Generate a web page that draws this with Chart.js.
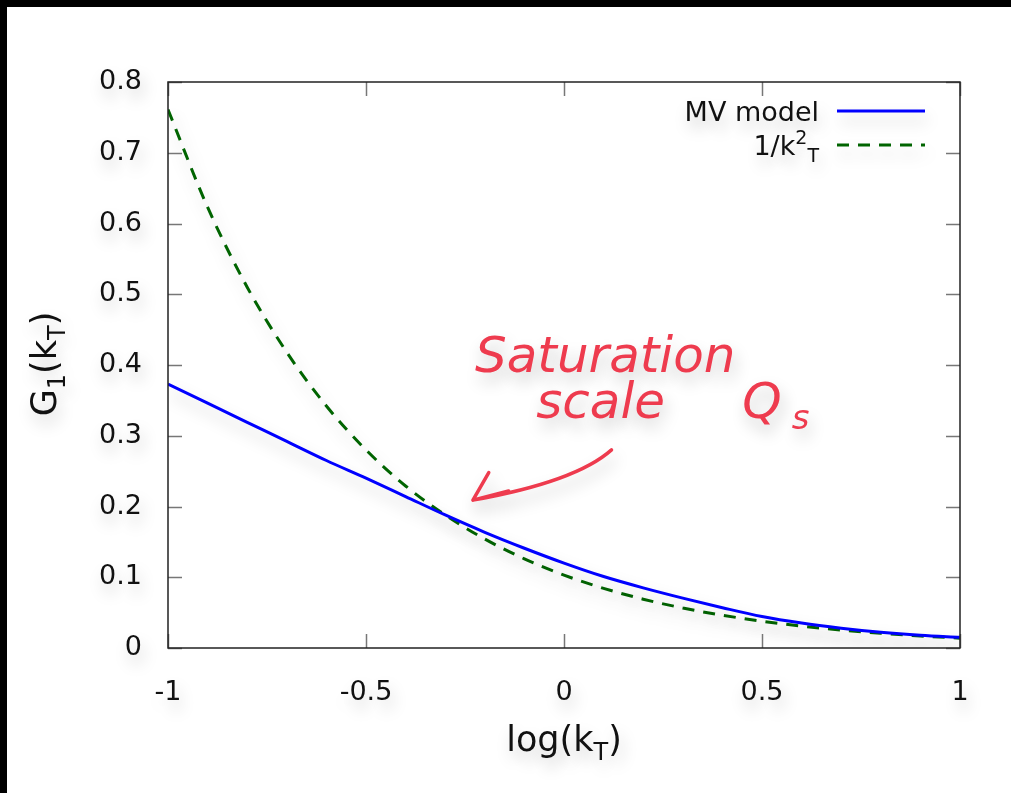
<!DOCTYPE html>
<html>
<head>
<meta charset="utf-8">
<script src="https://cdn.jsdelivr.net/npm/chart.js@4.4.1/dist/chart.umd.min.js"></script>
<style>
  html, body { margin: 0; padding: 0; background: #000; }
  body { width: 1011px; height: 793px; overflow: hidden; position: relative; }
  #wrap { position: absolute; left: 7px; top: 7px; width: 1004px; height: 786px; background: #fff; }
</style>
</head>
<body>
<div id="wrap"><canvas id="gChart" width="1004" height="786"></canvas></div>
<script>
// values
const logKT   = [-1, -0.9, -0.8, -0.7, -0.6, -0.5, -0.4, -0.3, -0.2, -0.1, 0, 0.1, 0.2, 0.3, 0.4, 0.5, 0.6, 0.7, 0.8, 0.9, 1];
const mvModel = [0.373, 0.346, 0.319, 0.292, 0.265, 0.240, 0.214, 0.188, 0.1635, 0.141, 0.120, 0.101, 0.085, 0.0705, 0.057, 0.0445, 0.0352, 0.028, 0.0222, 0.018, 0.0151];
const invK2   = [0.761, 0.623, 0.510, 0.418, 0.342, 0.280, 0.229, 0.188, 0.154, 0.126, 0.103, 0.0843, 0.069, 0.0565, 0.0463, 0.0379, 0.031, 0.0254, 0.0208, 0.017, 0.0139];
const xTicks  = [-1, -0.5, 0, 0.5, 1];
const yTicks  = [0, 0.1, 0.2, 0.3, 0.4, 0.5, 0.6, 0.7, 0.8];

const FONT = '"DejaVu Sans", Verdana, sans-serif';

// draw text pieces with sub/superscripts
function drawRich(ctx, parts, x, y, align, size) {
    const small = Math.round(size * 0.69);
    const fontOf = p => (p.s ? small : size) + 'px ' + FONT;
    let w = 0;
    parts.forEach(p => { ctx.font = fontOf(p); w += ctx.measureText(p.t).width; });
    let cx = align === 'right' ? x - w : (align === 'center' ? x - w / 2 : x);
    ctx.textAlign = 'left';
    ctx.textBaseline = 'alphabetic';
    parts.forEach(p => {
        ctx.font = fontOf(p);
        const dy = p.s === 'sub' ? size * 0.27 : (p.s === 'sup' ? -size * 0.42 : 0);
        ctx.fillText(p.t, cx, y + dy);
        cx += ctx.measureText(p.t).width;
    });
}

function setShadow(ctx) {
    ctx.shadowColor = 'rgba(0,0,0,0.22)';
    ctx.shadowBlur = 16;
    ctx.shadowOffsetX = 3;
    ctx.shadowOffsetY = 9;
}

const gnuplotLook = {
    id: 'gnuplotLook',
    beforeDraw(chart) {
        setShadow(chart.ctx);
    },
    afterDraw(chart) {
        const ctx = chart.ctx;
        const a = chart.chartArea;
        const xs = chart.scales.x, ys = chart.scales.y;
        ctx.save();
        ctx.shadowColor = 'transparent';
        // inner tick marks, mirrored
        ctx.strokeStyle = '#777';
        ctx.lineWidth = 1.5;
        ctx.beginPath();
        xTicks.forEach(v => {
            const px = Math.round(xs.getPixelForValue(v)) + 0.5;
            ctx.moveTo(px, a.bottom); ctx.lineTo(px, a.bottom - 14);
            ctx.moveTo(px, a.top); ctx.lineTo(px, a.top + 14);
        });
        yTicks.forEach(v => {
            const py = Math.round(ys.getPixelForValue(v)) + 0.5;
            ctx.moveTo(a.left, py); ctx.lineTo(a.left + 14, py);
            ctx.moveTo(a.right, py); ctx.lineTo(a.right - 14, py);
        });
        ctx.stroke();
        // frame
        ctx.strokeStyle = '#222';
        ctx.lineWidth = 1.5;
        ctx.strokeRect(a.left, a.top, a.right - a.left, a.bottom - a.top);
        ctx.restore();

        ctx.save();
        setShadow(ctx);
        ctx.fillStyle = '#111';
        // legend
        drawRich(ctx, [{t: 'MV model'}], a.right - 141, a.top + 39, 'right', 27);
        drawRich(ctx, [{t: '1/k'}, {t: '2', s: 'sup'}, {t: 'T', s: 'sub'}], a.right - 141, a.top + 73, 'right', 27);
        ctx.lineWidth = 3;
        ctx.strokeStyle = '#0000ff';
        ctx.beginPath();
        ctx.moveTo(a.right - 123, a.top + 29); ctx.lineTo(a.right - 35, a.top + 29);
        ctx.stroke();
        ctx.strokeStyle = '#006400';
        ctx.setLineDash([12, 9]);
        ctx.beginPath();
        ctx.moveTo(a.right - 123, a.top + 63); ctx.lineTo(a.right - 35, a.top + 63);
        ctx.stroke();
        ctx.setLineDash([]);

        // axis titles
        drawRich(ctx, [{t: 'log(k'}, {t: 'T', s: 'sub'}, {t: ')'}], (a.left + a.right) / 2, a.bottom + 103, 'center', 35);
        ctx.save();
        ctx.translate(a.left - 112, (a.top + a.bottom) / 2 - 1);
        ctx.rotate(-Math.PI / 2);
        drawRich(ctx, [{t: 'G'}, {t: '1', s: 'sub'}, {t: '(k'}, {t: 'T', s: 'sub'}, {t: ')'}], 0, 0, 'center', 35);
        ctx.restore();
        ctx.restore();

        // hand-written note
        ctx.save();
        ctx.fillStyle = '#ee3b4e';
        ctx.strokeStyle = '#ee3b4e';
        ctx.font = 'italic 50px "DejaVu Sans", sans-serif';
        ctx.textAlign = 'left';
        ctx.textBaseline = 'alphabetic';
        ctx.fillText('Saturation', xs.getPixelForValue(-0.225), ys.getPixelForValue(0.39));
        ctx.fillText('scale', xs.getPixelForValue(-0.07), ys.getPixelForValue(0.325));
        ctx.fillText('Q', xs.getPixelForValue(0.45), ys.getPixelForValue(0.325));
        ctx.font = 'italic 34px "DejaVu Sans", sans-serif';
        ctx.fillText('s', xs.getPixelForValue(0.575), ys.getPixelForValue(0.31));
        const sx = xs.getPixelForValue(0.12), sy = ys.getPixelForValue(0.28);
        const cx = xs.getPixelForValue(0.03), cy = ys.getPixelForValue(0.235);
        const tx = xs.getPixelForValue(-0.23), ty = ys.getPixelForValue(0.209);
        ctx.lineWidth = 3.5;
        ctx.lineCap = 'round';
        ctx.beginPath();
        ctx.moveTo(sx, sy);
        ctx.quadraticCurveTo(cx, cy, tx, ty);
        ctx.moveTo(tx, ty); ctx.lineTo(xs.getPixelForValue(-0.19), ys.getPixelForValue(0.248));
        ctx.moveTo(tx, ty); ctx.lineTo(xs.getPixelForValue(-0.14), ys.getPixelForValue(0.222));
        ctx.stroke();
        ctx.restore();
    }
};

const tickFont = { family: FONT, size: 27 };

new Chart(document.getElementById('gChart').getContext('2d'), {
    type: 'line',
    data: {
        datasets: [{
            label: 'MV model',
            data: logKT.map((x, i) => ({ x: x, y: mvModel[i] })),
            borderColor: '#0000ff',
            borderWidth: 3,
            pointRadius: 0,
            fill: false,
            cubicInterpolationMode: 'monotone'
        }, {
            label: '1/k2T',
            data: logKT.map((x, i) => ({ x: x, y: invK2[i] })),
            borderColor: '#006400',
            borderWidth: 3,
            borderDash: [12, 9],
            pointRadius: 0,
            fill: false,
            cubicInterpolationMode: 'monotone'
        }]
    },
    options: {
        responsive: false,
        animation: false,
        devicePixelRatio: 1,
        layout: { padding: { left: 0, right: 51, top: 75, bottom: 0 } },
        plugins: {
            legend: { display: false },
            tooltip: { enabled: false }
        },
        scales: {
            x: {
                type: 'linear',
                min: -1,
                max: 1,
                afterBuildTicks: s => { s.ticks = xTicks.map(v => ({ value: v })); },
                afterFit: s => { s.height = 145; },
                ticks: {
                    color: '#111',
                    font: tickFont,
                    padding: 21,
                    maxRotation: 0,
                    autoSkip: false,
                    callback: v => String(v)
                },
                grid: { display: false },
                border: { display: false }
            },
            y: {
                min: 0,
                max: 0.8,
                afterBuildTicks: s => { s.ticks = yTicks.map(v => ({ value: v })); },
                afterFit: s => { s.width = 161; },
                ticks: {
                    color: '#111',
                    font: tickFont,
                    padding: 18,
                    autoSkip: false,
                    callback: v => String(v)
                },
                grid: { display: false },
                border: { display: false }
            }
        }
    },
    plugins: [gnuplotLook]
});
</script>
</body>
</html>
